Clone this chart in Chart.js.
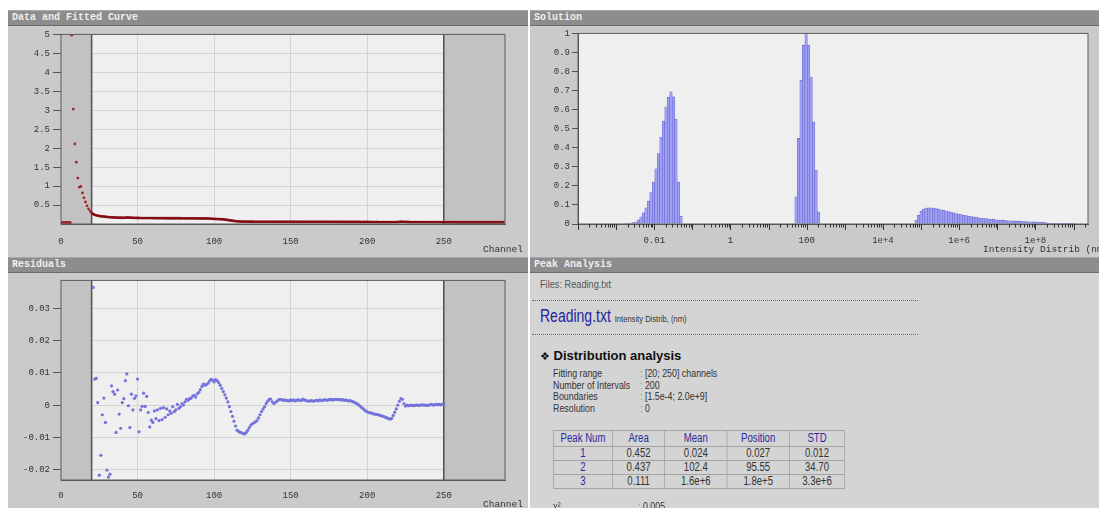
<!DOCTYPE html>
<html><head><meta charset="utf-8">
<title>DLS analysis</title>
<script src="https://cdn.jsdelivr.net/npm/chart.js@4.4.1/dist/chart.umd.min.js"></script>
<style>
html,body{margin:0;padding:0;background:#fff;}
body{width:1099px;height:508px;overflow:hidden;position:relative;}
.panel{position:absolute;background:#cacaca;overflow:hidden;}
.ttl{position:absolute;left:0;right:0;top:0;height:16px;background:#8d8d8d;border-top:1px solid #a9a9a9;border-bottom:1px solid #6c6c6c;box-sizing:border-box;color:#efefef;font:bold 10px "Liberation Mono","DejaVu Sans Mono",monospace;line-height:14px;padding-left:4px;white-space:nowrap;}
canvas{position:absolute;left:0;}
.axt{position:absolute;font:9.5px "Liberation Mono","DejaVu Sans Mono",monospace;color:#333;white-space:nowrap;line-height:11px;}
.tx{position:absolute;white-space:nowrap;font-family:"Liberation Sans",Arial,sans-serif;transform:scaleX(0.8);transform-origin:0 0;}
.tx.p{transform:scaleX(0.77);}
.dots{position:absolute;left:2px;width:386px;height:0;border-top:1px dotted #6a6a6a;}
#pk{position:absolute;left:23px;top:173px;border-collapse:collapse;font-family:"Liberation Sans",Arial,sans-serif;font-size:12px;transform:scaleX(0.8);transform-origin:0 0;}
#pk td,#pk th{border:1px solid #a2a2a2;padding:0;text-align:center;font-weight:normal;height:13px;line-height:13px;color:#333;}
#pk th{height:15px;color:#2a2a9c;}
#pk td.n{color:#2a2a9c;}
</style></head>
<body>
<div class="panel" id="p1" style="left:8px;top:10px;width:520px;height:247px;">
  <div class="ttl">Data and Fitted Curve</div>
  <canvas id="cData" width="520" height="231" style="top:16px"></canvas>
  <div class="axt" style="left:475px;top:234px">Channel</div>
</div>
<div class="panel" id="p2" style="left:530px;top:10px;width:569px;height:247px;">
  <div class="ttl">Solution</div>
  <canvas id="cSol" width="569" height="231" style="top:16px"></canvas>
  <div class="axt" style="left:453px;top:234px">Intensity Distrib (nm)</div>
</div>
<div class="panel" id="p3" style="left:8px;top:257px;width:520px;height:251px;">
  <div class="ttl">Residuals</div>
  <canvas id="cRes" width="520" height="236" style="top:15px"></canvas>
  <div class="axt" style="left:475px;top:242px">Channel</div>
</div>
<div class="panel" id="p4" style="left:530px;top:257px;width:569px;height:251px;background:#d4d4d4;">
  <div class="ttl">Peak Analysis</div>
  <div class="tx" style="left:10px;top:21px;font-size:11.5px;color:#555">Files: Reading.txt</div>
  <div class="dots" style="top:43px"></div>
  <div class="tx" style="left:10px;top:49px;font-size:17.5px;color:#2424a0">Reading.txt <span style="font-size:9.5px;color:#333">Intensity Distrib, (nm)</span></div>
  <div class="dots" style="top:77px"></div>
  <div style="position:absolute;left:10px;top:91px;white-space:nowrap;font:bold 13px 'Liberation Sans',Arial,sans-serif;color:#111"><span style="font-family:'DejaVu Sans';font-weight:normal;font-size:11px">❖</span> Distribution analysis</div>
  <div id="params"></div>
  <table id="pk"></table>
  <div class="tx p" style="left:23px;top:243px;font-size:11.5px;color:#333">χ²</div>
  <div class="tx p" style="left:108px;top:243px;font-size:11.5px;color:#333"><span style="color:#888">:</span> 0.005</div>
</div>
<script>
// ---------- Data and fitted curve ----------
const dataStartChannel = 0;
const dataValues = [
0.04,0.04,0.04,0.04,0.04,0.04,0.04,4.98,3.03,2.11,
1.63,1.21,0.97,0.99,0.82,0.69,0.58,0.48,0.40,0.34,
0.29,0.26,0.24,0.23,0.22,0.21,0.205,0.20,0.195,0.19,
0.186,0.182,0.179,0.176,0.173,0.171,0.169,0.167,0.166,0.165,
0.164,0.163,0.166,0.172,0.176,0.17,0.165,0.162,0.16,0.159,
0.158,0.158,0.157,0.157,0.156,0.156,0.156,0.155,0.155,0.155,
0.154,0.154,0.154,0.154,0.153,0.153,0.153,0.153,0.153,0.152,
0.152,0.152,0.152,0.152,0.151,0.151,0.151,0.151,0.151,0.150,
0.150,0.150,0.150,0.150,0.150,0.149,0.149,0.149,0.149,0.148,
0.148,0.148,0.147,0.147,0.146,0.145,0.144,0.142,0.14,0.137,
0.134,0.132,0.13,0.129,0.128,0.126,0.123,0.118,0.112,0.105,
0.098,0.091,0.085,0.079,0.074,0.07,0.067,0.065,0.063,0.062,
0.061,0.06,0.06,0.059,0.059,0.059,0.058,0.058,0.058,0.058,
0.058,0.058,0.057,0.058,0.057,0.057,0.057,0.058,0.057,0.057,
0.057,0.057,0.056,0.057,0.057,0.056,0.056,0.057,0.056,0.056,
0.056,0.056,0.056,0.055,0.056,0.056,0.055,0.056,0.055,0.055,
0.055,0.055,0.056,0.055,0.055,0.055,0.054,0.055,0.055,0.055,
0.055,0.054,0.055,0.054,0.054,0.055,0.054,0.054,0.054,0.054,
0.054,0.054,0.053,0.054,0.054,0.053,0.054,0.053,0.053,0.053,
0.053,0.053,0.053,0.054,0.053,0.053,0.053,0.052,0.053,0.053,
0.053,0.053,0.052,0.053,0.052,0.052,0.053,0.052,0.052,0.052,
0.052,0.052,0.052,0.052,0.052,0.051,0.052,0.052,0.052,0.051,
0.054,0.056,0.059,0.06,0.058,0.055,0.053,0.053,0.052,0.052,
0.052,0.051,0.052,0.051,0.051,0.051,0.051,0.051,0.05,0.051,
0.051,0.05,0.051,0.05,0.05,0.051,0.05,0.05,0.05,0.05,
0.05,0.05,0.05,0.05,0.049,0.05,0.05,0.049,0.05,0.049,
0.049,0.05,0.049,0.049,0.049,0.049,0.049,0.049,0.049,0.049,
0.049,0.048,0.049,0.049,0.048,0.049,0.048,0.048,0.049,0.048,
0.048,0.048,0.048,0.048,0.048,0.048,0.048,0.048,0.048,0.048
];
const fitChannels = [20,21,22,23,25,28,30,35,40,45,50,60,70,80,90,95,100,105,110,115,120,130,150,200,220,230,260,289];
const fitValues   = [0.30,0.265,0.245,0.232,0.212,0.196,0.187,0.172,0.165,0.163,0.159,0.155,0.152,0.150,0.148,0.145,0.135,0.127,0.099,0.071,0.061,0.058,0.057,0.053,0.052,0.051,0.049,0.048];
const fitRange = [20, 250];
const dataXTicks = [0, 50, 100, 150, 200, 250];
const dataYTicks = [0.5, 1, 1.5, 2, 2.5, 3, 3.5, 4, 4.5, 5];

// ---------- Residuals ----------
const residStartChannel = 21;
const residValues = [
0.0366,0.0081,0.0083,0.0008,-0.0218,-0.0156,-0.003,0.0022,-0.0054,-0.0202,
-0.0224,-0.0215,0.006,0.0042,0.0034,-0.0085,0.0047,-0.0028,-0.0072,0.0008,
0.002,0.0076,0.0097,-0.0002,-0.007,0.0034,-0.0015,0.0021,0.0029,0.0081,
-0.0083,-0.0015,-0.0004,0.0037,-0.0004,0.0027,-0.0023,-0.0068,-0.0047,-0.0054,
-0.0018,-0.0042,-0.0015,-0.0048,-0.001,-0.0045,-0.0008,-0.0038,-0.0012,-0.003,
-0.0018,-0.0025,-0.0005,-0.002,-0.0015,0.0002,-0.001,-0.0005,0.0005,0.0,
0.001,0.0018,0.0015,0.002,0.0022,0.0028,0.003,0.0025,0.0035,0.004,
0.0048,0.0058,0.0065,0.0062,0.0064,0.0068,0.0075,0.008,0.0078,0.0072,
0.0079,0.0076,0.007,0.0062,0.0052,0.0042,0.0032,0.0022,0.001,-0.0005,
-0.002,-0.0035,-0.005,-0.0065,-0.0078,-0.0082,-0.0085,-0.0086,-0.0088,-0.009,
-0.0085,-0.0078,-0.007,-0.0062,-0.0058,-0.0055,-0.0052,-0.0048,-0.004,-0.003,
-0.002,-0.0012,-0.0005,0.0005,0.0012,0.0018,0.0019,0.001,0.0005,0.0008,
0.0012,0.0016,0.0018,0.0017,0.0015,0.0016,0.0014,0.0015,0.0013,0.0016,
0.0014,0.0016,0.0013,0.0015,0.0017,0.0014,0.0015,0.0019,0.0016,0.0014,
0.0013,0.0012,0.0014,0.0013,0.0012,0.0014,0.0015,0.0013,0.0016,0.0014,
0.0015,0.0017,0.0016,0.0015,0.0017,0.0018,0.0016,0.0017,0.0018,0.0017,
0.0018,0.0017,0.0016,0.0017,0.0015,0.0016,0.0014,0.0013,0.0014,0.0012,
0.001,0.0008,0.0005,0.0002,-0.0002,-0.0006,-0.001,-0.0014,-0.0018,-0.0021,
-0.0023,-0.0024,-0.0025,-0.0027,-0.0028,-0.0029,-0.003,-0.0031,-0.0033,-0.0034,
-0.0036,-0.0038,-0.004,-0.0042,-0.0044,-0.0041,-0.0032,-0.0022,-0.0012,0.0,
0.0012,0.002,0.0018,0.0005,-0.0003,
0.0,-0.0002,-0.0001,0.0,-0.0002,-0.0001,0.0,0.0,-0.0001,0.0,
0.0001,0.0,0.0,-0.0001,0.0,0.0001,0.0002,0.0,0.0001,0.0002,
0.0001,0.0002,0.0001,0.0002,0.0001
];
const residYTicks = [-0.02, -0.01, 0, 0.01, 0.02, 0.03];

// ---------- Solution (intensity distribution) ----------
const boundaries = [1.5e-4, 2.0e9];
const nIntervals = 200;
const peak1StartBin = 16;
const peak1Values = [0.002,0.003,0.005,0.007,0.01,0.022,0.038,0.058,0.085,0.12,0.165,0.22,0.29,0.37,0.455,0.54,0.615,0.665,0.693,0.667,0.55,0.22,0.04];
const peak2StartBin = 84;
const peak2Values = [0.143,0.449,0.754,0.937,1.0,0.937,0.771,0.536,0.283,0.064];
const peak3StartBin = 132;
const peak3Values = [
0.02,0.045,0.066,0.078,0.083,0.085,0.085,0.083,0.081,0.078,
0.075,0.072,0.069,0.065,0.062,0.058,0.055,0.052,0.049,0.046,
0.044,0.041,0.039,0.037,0.035,0.033,0.031,0.029,0.028,0.026,
0.025,0.024,0.022,0.021,0.02,0.019,0.018,0.017,0.017,0.016,
0.015,0.015,0.014,0.013,0.013,0.012,0.012,0.011,0.011,0.01,
0.01,0.009,0.006,0.005,0.004,0.004,0.003,0.003,0.003,0.003,
0.002,0.002,0.002,0.002];
const solutionXRange = [1e-4, 2.4e9];
const solutionXTicks = [0.01, 1, 100, 1e4, 1e6, 1e8];
const solutionXLabels = ['0.01', '1', '100', '1e+4', '1e+6', '1e+8'];
const solutionYTicks = [0, 0.1, 0.2, 0.3, 0.4, 0.5, 0.6, 0.7, 0.8, 0.9, 1];

// ---------- Peak analysis ----------
const paramLabels = ['Fitting range', 'Number of Intervals', 'Boundaries', 'Resolution'];
const paramValues = ['[20; 250] channels', '200', '[1.5e-4; 2.0e+9]', '0'];
const peakHeader = ['Peak Num', 'Area', 'Mean', 'Position', 'STD'];
const peakNum = ['1', '2', '3'];
const peakArea = ['0.452', '0.437', '0.111'];
const peakMean = ['0.024', '102.4', '1.6e+6'];
const peakPosition = ['0.027', '95.55', '1.8e+5'];
const peakSTD = ['0.012', '34.70', '3.3e+6'];

// ---------- HTML text blocks ----------
(function () {
  const p = document.getElementById('params');
  paramLabels.forEach((l, i) => {
    const top = 110 + i * 11.6;
    p.insertAdjacentHTML('beforeend',
      `<div class="tx p" style="left:23px;top:${top}px;font-size:11.5px;color:#333">${l}</div>` +
      `<div class="tx p" style="left:110px;top:${top}px;font-size:11.5px;color:#333"><span style="color:#8a8a8a">:</span> ${paramValues[i]}</div>`);
  });
  const widths = [73, 64, 77, 77, 68];
  let h = '<tr>' + peakHeader.map((t, i) => `<th style="width:${widths[i]}px">${t}</th>`).join('') + '</tr>';
  peakNum.forEach((n, r) => {
    h += `<tr><td class="n">${n}</td><td>${peakArea[r]}</td><td>${peakMean[r]}</td><td>${peakPosition[r]}</td><td>${peakSTD[r]}</td></tr>`;
  });
  document.getElementById('pk').innerHTML = h;
})();

// ---------- Chart.js ----------
Chart.defaults.animation = false;
Chart.defaults.font.family = '"Liberation Mono","DejaVu Sans Mono",monospace';
Chart.defaults.font.size = 9;
Chart.defaults.color = '#333';

const framePlugin = {
  id: 'frame',
  beforeDraw(chart, args, o) {
    const {ctx, chartArea: a, scales: {x}} = chart;
    ctx.save();
    ctx.fillStyle = o.range ? o.outer : o.inner;
    ctx.fillRect(a.left, a.top, a.right - a.left, a.bottom - a.top);
    if (o.range) {
      const x0 = x.getPixelForValue(o.range[0]), x1 = x.getPixelForValue(o.range[1]);
      ctx.fillStyle = o.inner;
      ctx.fillRect(x0, a.top, x1 - x0, a.bottom - a.top);
    }
    ctx.restore();
  },
  beforeDatasetsDraw(chart, args, o) {
    if (!o.range) return;
    const {ctx, chartArea: a, scales: {x}} = chart;
    const x0 = x.getPixelForValue(o.range[0]), x1 = x.getPixelForValue(o.range[1]);
    ctx.save();
    ctx.fillStyle = o.outer;
    ctx.fillRect(a.left, a.top, x0 - a.left, a.bottom - a.top);
    ctx.fillRect(x1, a.top, a.right - x1, a.bottom - a.top);
    ctx.strokeStyle = '#505050';
    ctx.lineWidth = 1.5;
    ctx.beginPath();
    ctx.moveTo(x0, a.top); ctx.lineTo(x0, a.bottom);
    ctx.moveTo(x1, a.top); ctx.lineTo(x1, a.bottom);
    ctx.stroke();
    ctx.restore();
  },
  afterDraw(chart, args, o) {
    const {ctx, chartArea: a, scales: {x}} = chart;
    ctx.save();
    ctx.strokeStyle = '#5a5a5a';
    ctx.lineWidth = 1;
    ctx.strokeRect(a.left, a.top, a.right - a.left, a.bottom - a.top);
    if (o.minor) {
      ctx.strokeStyle = '#333';
      ctx.beginPath();
      for (let e = -5; e <= 10; e++) {
        for (let m = 1; m <= 9; m++) {
          const v = m * Math.pow(10, e);
          if (v < x.min || v > x.max) continue;
          const px = Math.round(x.getPixelForValue(v)) + 0.5;
          const len = m === 1 ? 6 : 3.5;
          ctx.moveTo(px, a.bottom);
          ctx.lineTo(px, a.bottom + len);
        }
      }
      ctx.stroke();
    }
    ctx.restore();
  }
};

function setTicks(values) {
  return (scale) => { scale.ticks = values.map(v => ({value: v})); };
}
const tickFont = {family: '"Liberation Mono","DejaVu Sans Mono",monospace', size: 9};

// Data & fitted curve
new Chart(document.getElementById('cData'), {
  type: 'scatter',
  data: {
    datasets: [
      {type: 'line', data: fitChannels.map((c, i) => ({x: c, y: fitValues[i]})),
       borderColor: '#7d0e12', borderWidth: 2, pointRadius: 0, tension: 0},
      {data: dataValues.map((v, i) => ({x: dataStartChannel + i, y: v})),
       backgroundColor: '#a8222e', borderWidth: 0, pointRadius: 1.4}
    ]
  },
  options: {
    responsive: false,
    layout: {padding: {top: 7, right: 23, bottom: 0, left: 0}},
    plugins: {legend: {display: false}, tooltip: {enabled: false},
      frame: {range: fitRange, outer: '#c2c2c2', inner: '#efefef'}},
    scales: {
      x: {type: 'linear', min: 0, max: 290, afterBuildTicks: setTicks(dataXTicks),
          afterFit: s => { s.height = 33; },
          grid: {color: '#d4d4d4', drawTicks: false}, border: {color: '#555'},
          ticks: {font: tickFont, color: '#333', padding: 12, maxRotation: 0, autoSkip: false}},
      y: {min: 0, max: 5, afterBuildTicks: setTicks(dataYTicks),
          afterFit: s => { s.width = 53; },
          grid: {color: '#d4d4d4', tickLength: 8, tickColor: '#555'}, border: {color: '#555'},
          ticks: {font: tickFont, color: '#333', padding: 3, autoSkip: false,
                  callback: v => String(v)}}
    }
  },
  plugins: [framePlugin]
});

// Residuals
new Chart(document.getElementById('cRes'), {
  type: 'scatter',
  data: {
    datasets: [
      {data: residValues.map((v, i) => ({x: residStartChannel + i, y: v})),
       backgroundColor: '#7373dc', borderWidth: 0, pointRadius: 1.6}
    ]
  },
  options: {
    responsive: false,
    layout: {padding: {top: 8, right: 23, bottom: 0, left: 0}},
    plugins: {legend: {display: false}, tooltip: {enabled: false},
      frame: {range: fitRange, outer: '#c2c2c2', inner: '#efefef'}},
    scales: {
      x: {type: 'linear', min: 0, max: 290, afterBuildTicks: setTicks(dataXTicks),
          afterFit: s => { s.height = 28; },
          grid: {color: '#d4d4d4', drawTicks: false}, border: {color: '#555'},
          ticks: {font: tickFont, color: '#333', padding: 10, maxRotation: 0, autoSkip: false}},
      y: {min: -0.0233, max: 0.0388, afterBuildTicks: setTicks(residYTicks),
          afterFit: s => { s.width = 53; },
          grid: {color: '#d4d4d4', tickLength: 8, tickColor: '#555'}, border: {color: '#555'},
          ticks: {font: tickFont, color: '#333', padding: 3, autoSkip: false,
                  callback: v => String(v)}}
    }
  },
  plugins: [framePlugin]
});

// Solution
const logA = Math.log10(boundaries[0]), logB = Math.log10(boundaries[1]);
const binCenter = i => Math.pow(10, logA + (i + 0.5) * (logB - logA) / nIntervals);
const solutionBars = [];
[[peak1StartBin, peak1Values], [peak2StartBin, peak2Values], [peak3StartBin, peak3Values]]
  .forEach(([s, vals]) => vals.forEach((v, k) => solutionBars.push({x: binCenter(s + k), y: v})));

new Chart(document.getElementById('cSol'), {
  type: 'bar',
  data: {
    datasets: [{data: solutionBars, backgroundColor: '#a0a0f2', borderColor: '#6767d4',
                borderWidth: 0.6, barPercentage: 1, categoryPercentage: 1}]
  },
  options: {
    responsive: false,
    layout: {padding: {top: 7, right: 11, bottom: 0, left: 0}},
    plugins: {legend: {display: false}, tooltip: {enabled: false},
      frame: {range: null, inner: '#efefef', minor: true}},
    scales: {
      x: {type: 'logarithmic', min: solutionXRange[0], max: solutionXRange[1], offset: false,
          afterBuildTicks: setTicks(solutionXTicks),
          afterFit: s => { s.height = 33; },
          grid: {display: false, drawTicks: false, offset: false}, border: {color: '#555'},
          ticks: {font: tickFont, color: '#333', padding: 11, maxRotation: 0, autoSkip: false,
                  callback: (v) => {
                    const i = solutionXTicks.findIndex(t => Math.abs(t - v) / t < 1e-6);
                    return i >= 0 ? solutionXLabels[i] : '';
                  }}},
      y: {min: 0, max: 1, afterBuildTicks: setTicks(solutionYTicks),
          afterFit: s => { s.width = 48; },
          grid: {display: true, drawOnChartArea: false, tickLength: 6, tickColor: '#555'},
          border: {color: '#555'},
          ticks: {font: tickFont, color: '#333', padding: 2, autoSkip: false,
                  callback: v => String(v)}}
    }
  },
  plugins: [framePlugin]
});
</script>
</body></html>
